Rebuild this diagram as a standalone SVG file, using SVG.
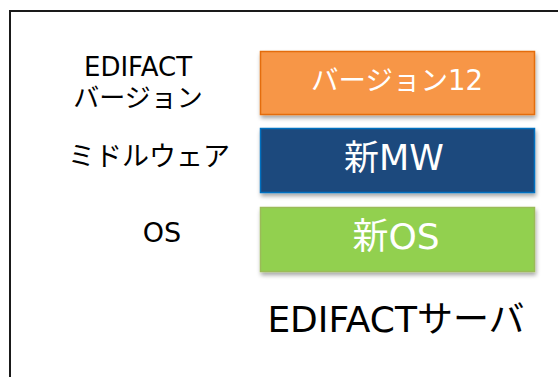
<svg xmlns="http://www.w3.org/2000/svg" width="558" height="377" viewBox="0 0 558 377">
<style>
.lbl{font-family:"DejaVu Sans","Noto Sans CJK JP",sans-serif;fill:#000;text-anchor:middle}
.in{font-family:"DejaVu Sans","Noto Sans CJK JP",sans-serif;fill:#fff;text-anchor:middle}
</style>
<defs>
<filter id="sh" x="-10%" y="-20%" width="120%" height="150%">
<feGaussianBlur in="SourceAlpha" stdDeviation="2"/>
<feOffset dx="1" dy="3"/>
<feComponentTransfer><feFuncA type="linear" slope="0.35"/></feComponentTransfer>
<feMerge><feMergeNode/><feMergeNode in="SourceGraphic"/></feMerge>
</filter>
</defs>
<rect width="558" height="377" fill="#fff"/>
<g id="frame">
<rect x="10" y="11" width="560" height="380" fill="none" stroke="#1a1a1a" stroke-width="2"/>
</g>
<g id="labels">
<text class="lbl" x="138" y="76" font-size="26">EDIFACT</text>
<text class="lbl" x="138" y="107" font-size="26">バージョン</text>
<text class="lbl" x="149" y="166" font-size="27">ミドルウェア</text>
<text class="lbl" x="162" y="242" font-size="27">OS</text>
</g>
<g id="version">
<rect x="260.5" y="51.5" width="274" height="63" fill="#F79646" stroke="#E46C0A" stroke-width="1.5" filter="url(#sh)"/>
<text class="in" x="397" y="90" font-size="27.5">バージョン12</text>
</g>
<g id="mw">
<rect x="260.5" y="128.5" width="274" height="64" fill="#1F497D" stroke="#0070C0" stroke-width="1.5" filter="url(#sh)"/>
<text class="in" x="394" y="170" font-size="35">新MW</text>
</g>
<g id="os">
<rect x="260.5" y="207.5" width="274" height="64" fill="#92D050" stroke="#9BBB59" stroke-width="1.5" filter="url(#sh)"/>
<text class="in" x="396" y="249" font-size="36">新OS</text>
</g>
<g id="server">
<text class="lbl" x="396" y="332" font-size="36">EDIFACTサーバ</text>
</g>
<g id="connectors"/>
</svg>
